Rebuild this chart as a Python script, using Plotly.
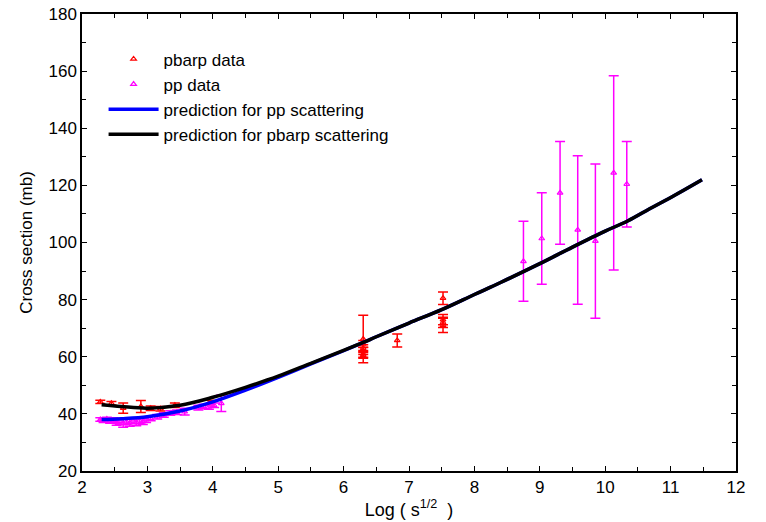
import plotly.graph_objects as go

# ---------------- data ----------------
# pbarp data (red)
pbarp_x = [2.28, 2.45, 2.63, 2.90, 3.05, 3.20, 3.42, 3.95,
           6.30, 6.30, 6.30, 6.30, 6.30, 6.30, 6.82,
           7.52, 7.52, 7.52, 7.52]
pbarp_y = [44.2, 43.7, 42.0, 42.6, 42.0, 41.8, 43.0, 44.0,
           66.2, 64.5, 63.0, 62.0, 61.0, 60.5, 65.7,
           80.5, 73.0, 72.0, 71.0]
pbarp_err = [0.6, 0.6, 1.8, 2.1, 0.8, 0.8, 0.8, 0.8,
             8.3, 1.2, 1.2, 1.2, 1.2, 1.0, 2.3,
             2.2, 1.8, 1.8, 2.5]

# pp data (magenta)
pp_x = [2.28, 2.33, 2.38, 2.43, 2.48, 2.53, 2.58, 2.63, 2.68, 2.73, 2.78,
        2.83, 2.88, 2.93, 2.98, 3.05, 3.15, 3.25, 3.35, 3.45, 3.57,
        3.78, 3.86, 3.94, 4.02, 4.13,
        8.75, 9.03, 9.31, 9.58, 9.85, 10.13, 10.33]
pp_y = [38.0, 37.6, 38.2, 37.5, 37.8, 37.0, 37.4, 36.8, 37.2, 36.9, 37.5,
        37.0, 37.6, 37.3, 38.0, 38.4, 39.0, 39.6, 40.3, 40.6, 40.8,
        42.2, 42.6, 42.4, 43.0, 43.7,
        93.4, 101.4, 117.4, 104.4, 100.5, 124.4, 120.4]
pp_err = [0.6, 0.6, 0.6, 0.8, 0.8, 1.0, 1.0, 1.5, 1.0, 1.2, 1.0,
          1.2, 1.0, 1.0, 1.0, 0.8, 0.8, 0.8, 0.8, 0.8, 1.2,
          0.8, 0.8, 0.8, 0.8, 2.9,
          14.0, 16.0, 18.0, 26.0, 27.0, 34.0, 15.0]

# prediction curves
pred_pbarp_x = [2.30, 2.60, 3.00, 3.50, 4.00, 4.50, 5.00, 5.50, 6.00, 6.30,
                6.50, 7.00, 7.50, 8.00, 8.40, 9.00, 9.50, 10.00, 10.35, 10.68,
                11.05, 11.48]
pred_pbarp_y = [43.2, 42.6, 42.0, 43.0, 45.8, 49.3, 53.2, 57.7, 62.2, 65.0,
                67.0, 71.8, 76.5, 81.8, 86.0, 92.6, 98.4, 104.0, 107.6, 111.8,
                116.4, 122.0]
pred_pp_x = [2.30, 2.60, 3.00, 3.50, 4.00, 4.50, 5.00, 5.50, 6.00, 6.30,
             6.50, 7.00, 7.50, 8.00, 8.40, 9.00, 9.50, 10.00, 10.35, 10.68,
             11.05, 11.48]
pred_pp_y = [38.0, 38.3, 39.0, 41.0, 44.2, 48.3, 52.8, 57.5, 62.1, 65.0,
             67.0, 71.8, 76.5, 81.8, 86.0, 92.6, 98.4, 104.0, 107.6, 111.8,
             116.4, 122.0]

x_ticks = [2, 3, 4, 5, 6, 7, 8, 9, 10, 11, 12]
y_ticks = [20, 40, 60, 80, 100, 120, 140, 160, 180]

RED = "#ff0000"
MAG = "#ff00ff"
FONT = "Liberation Sans, Arial, sans-serif"

fig = go.Figure()

fig.add_trace(go.Scatter(
    x=pbarp_x, y=pbarp_y, mode="markers", name="pbarp data",
    marker=dict(symbol="triangle-up-open", size=5, color=RED, line=dict(width=1.2)),
    error_y=dict(type="data", array=pbarp_err, color=RED, thickness=1.5, width=5),
    legendrank=1,
))
fig.add_trace(go.Scatter(
    x=pp_x, y=pp_y, mode="markers", name="pp data",
    marker=dict(symbol="triangle-up-open", size=5, color=MAG, line=dict(width=1.2)),
    error_y=dict(type="data", array=pp_err, color=MAG, thickness=1.5, width=5),
    legendrank=2,
))
fig.add_trace(go.Scatter(
    x=pred_pp_x, y=pred_pp_y, mode="lines", name="prediction for pp scattering",
    line=dict(color="#0000ff", width=3.5, shape="spline"),
    legendrank=3,
))
fig.add_trace(go.Scatter(
    x=pred_pbarp_x, y=pred_pbarp_y, mode="lines", name="prediction for pbarp scattering",
    line=dict(color="#000000", width=3.5, shape="spline"),
    legendrank=4,
))

axis_common = dict(
    showline=True, linecolor="black", linewidth=1.5, mirror="ticks",
    ticks="inside", ticklen=5, tickwidth=1, tickcolor="black",
    showgrid=False, zeroline=False, automargin=False,
    tickfont=dict(family=FONT, size=17, color="black"),
)

fig.update_xaxes(
    range=[2, 12], tickmode="array", tickvals=x_ticks,
    minor=dict(dtick=0.5, ticks="inside", ticklen=4, tickcolor="black", showgrid=False),
    title=dict(text="Log ( s<sup>1/2</sup>  )", standoff=6,
               font=dict(family=FONT, size=18, color="black")),
    **axis_common,
)
fig.update_yaxes(
    range=[20, 180], tickmode="array", tickvals=y_ticks,
    minor=dict(dtick=10, ticks="inside", ticklen=4, tickcolor="black", showgrid=False),
    title=dict(text="Cross section (mb)", standoff=12,
               font=dict(family=FONT, size=17, color="black")),
    **axis_common,
)

fig.update_layout(
    width=766, height=522,
    margin=dict(l=82, r=30, t=14, b=51),
    paper_bgcolor="white", plot_bgcolor="white",
    font=dict(family=FONT, color="black"),
    legend=dict(
        x=0.033, y=0.94, xanchor="left", yanchor="top",
        bgcolor="rgba(0,0,0,0)", borderwidth=0,
        font=dict(size=17, color="black"),
        itemwidth=50, tracegroupgap=0,
    ),
    showlegend=True,
)

fig.write_html("out.html")
